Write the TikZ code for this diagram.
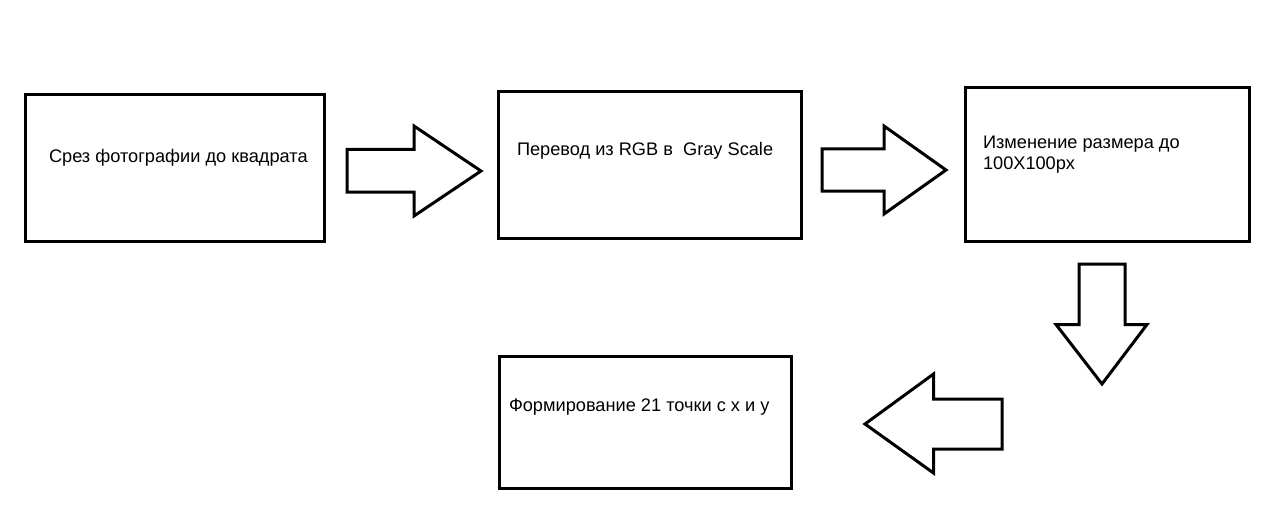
\documentclass[tikz,border=0pt]{standalone}
\usepackage{fontspec}
\setmainfont{Liberation Sans}
\tikzset{
  box/.style={draw=black,line width=3pt,inner sep=0pt,outer sep=0pt},
  lbl/.style={anchor=base west,inner sep=0pt,outer sep=0pt,align=left,
    font=\fontsize{18.2}{21}\selectfont},
  blk/.style={draw=black,line width=3pt,fill=white,line join=miter}
}
\begin{document}
\begin{tikzpicture}[x=1pt,y=-1pt]
\definecolor{fillColor}{RGB}{255,255,255}
\path[use as bounding box,fill=fillColor] (0,0) rectangle (1269,524);

% boxes
\node[box,minimum width=299pt,minimum height=147pt] (crop) at (175,168) {};
\node[box,minimum width=303pt,minimum height=146pt] (gray) at (650,165) {};
\node[box,minimum width=284pt,minimum height=154pt] (resize) at (1107.5,164.5) {};
\node[box,minimum width=292pt,minimum height=132pt] (points) at (645.5,422.5) {};

% texts
\node[lbl] (cropT) at (49,163) {Срез фотографии до квадрата};
\node[lbl] (grayT) at (517,156) {Перевод из RGB в \ Gray Scale};
\node[lbl] (resizeT) at (983,170) {Изменение размера до\\100X100px};
\node[lbl] (pointsT) at (509,411) {Формирование 21 точки с x и y};

% block arrows
\path[blk] (347,149.5) -- (414,149.5) -- (414,126) -- (481,171) -- (414,216)
  -- (414,192) -- (347,192) -- cycle;
\path[blk] (822,149) -- (884,149) -- (884,126) -- (946,170) -- (884,214)
  -- (884,191) -- (822,191) -- cycle;
\path[blk] (1079,264) -- (1125,264) -- (1125,324.5) -- (1147,324.5) -- (1102,384)
  -- (1056,324.5) -- (1079,324.5) -- cycle;
\path[blk] (1002,399) -- (933.5,399) -- (933.5,374) -- (865,424) -- (933.5,473)
  -- (933.5,449) -- (1002,449) -- cycle;
\end{tikzpicture}
\end{document}
